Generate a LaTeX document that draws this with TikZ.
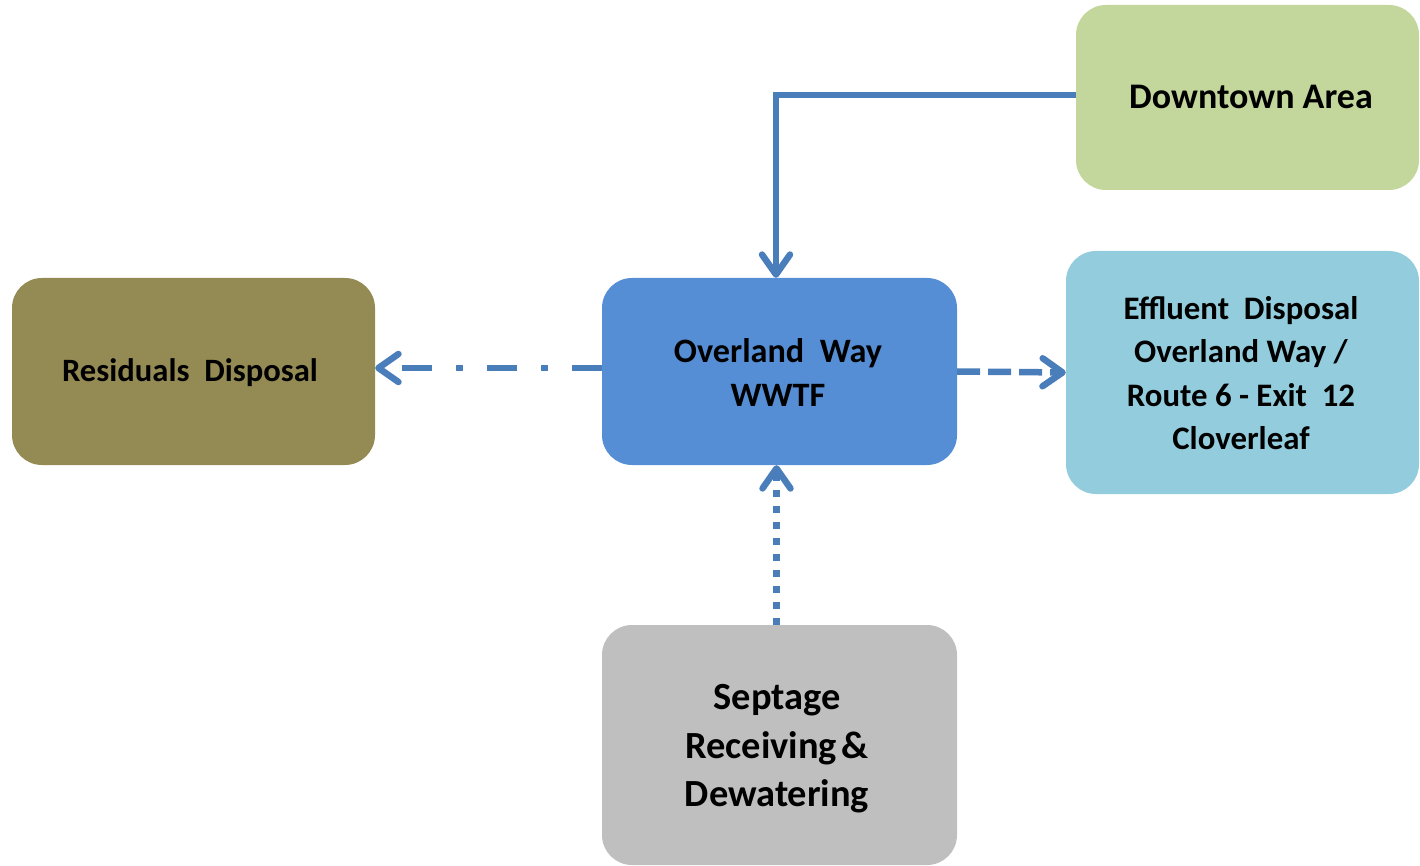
\documentclass[tikz,border=0pt]{standalone}
\usepackage{fontspec}
\setmainfont{Carlito}
\usetikzlibrary{arrows.meta}
\definecolor{linkblue}{HTML}{4A7EBB}
\definecolor{dtgreen}{HTML}{C3D69B}
\definecolor{resolive}{HTML}{948A54}
\definecolor{wwtfblue}{HTML}{558ED5}
\definecolor{effcyan}{HTML}{93CDDD}
\definecolor{sepgray}{HTML}{BFBFBF}
\tikzset{
  box/.style={rounded corners=30pt, inner sep=0pt, align=center, font=\bfseries},
  link/.style={draw=linkblue, line width=6.5pt},
  barb/.style={-{Straight Barb[length=20pt,width=28pt,line cap=round,line join=round]}},
}
\begin{document}
\begin{tikzpicture}[x=1pt,y=-1pt]
\useasboundingbox (0,0) rectangle (1420,866);
\node[box, fill=dtgreen, minimum width=343pt, minimum height=185pt] (dt) at (1247.5,97.5) {};
\node[font=\bfseries\fontsize{36}{42}\selectfont] (dtt) at (1251,97) {Downtown Area};
\node[box, fill=resolive, minimum width=363pt, minimum height=187pt] (res) at (193.5,371.5) {};
\node[font=\bfseries\fontsize{32.6}{40}\selectfont] (rest) at (190,373) {Residuals~~Disposal};
\node[box, fill=wwtfblue, minimum width=355pt, minimum height=187pt] (wwtf) at (779.5,371.5) {};
\node[align=center, font=\bfseries\fontsize{34.2}{44}\selectfont] (wwtft) at (778,373) {Overland~~Way\\WWTF};
\node[box, fill=effcyan, minimum width=353pt, minimum height=243pt] (eff) at (1242.5,372.5) {};
\node[align=center, font=\bfseries\fontsize{32.8}{43.5}\selectfont] (efft) at (1241,373) {Effluent~~Disposal\\Overland~Way~/\\Route 6 - Exit~~12\\Cloverleaf};
\node[box, fill=sepgray, minimum width=355pt, minimum height=240pt] (sep) at (779.5,745) {};
\node[align=center, font=\bfseries\fontsize{38.4}{48.5}\selectfont] (sept) at (777,749) {Septage\\Receiving\hspace{0.12em}\&\\Dewatering};
% connectors
\coordinate (bend) at (776,95);
\draw[link, barb] (dt.west |- bend) -- (bend) -- (bend |- wwtf.north);
\draw[link, barb, dash pattern=on 30pt off 24pt on 7pt off 24pt] ([yshift=3.5pt]wwtf.west) -- ([yshift=3.5pt]res.east);
\draw[link, barb, dash pattern=on 23pt off 8pt] (wwtf.east) -- (eff.west);
\draw[link, barb, dash pattern=on 7pt off 9pt] ([xshift=-3pt]sep.north) -- ([xshift=-3pt]wwtf.south);
\end{tikzpicture}
\end{document}
